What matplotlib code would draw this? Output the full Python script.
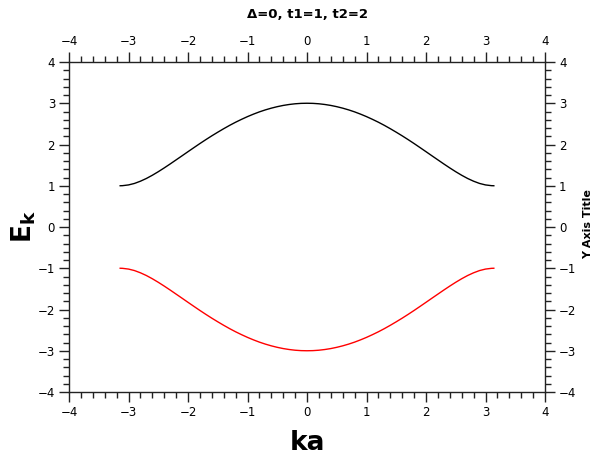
import matplotlib
matplotlib.use("Agg")
import matplotlib.pyplot as plt
from matplotlib.ticker import MultipleLocator

# Data
ka = [-3.14, -3.1, -3.0, -2.9, -2.8, -2.7, -2.6, -2.5, -2.4, -2.3, -2.2, -2.1,
      -2.0, -1.9, -1.8, -1.7, -1.6, -1.5, -1.4, -1.3, -1.2, -1.1, -1.0, -0.9,
      -0.8, -0.7, -0.6, -0.5, -0.4, -0.3, -0.2, -0.1, 0.0, 0.1, 0.2, 0.3, 0.4,
      0.5, 0.6, 0.7, 0.8, 0.9, 1.0, 1.1, 1.2, 1.3, 1.4, 1.5, 1.6, 1.7, 1.8,
      1.9, 2.0, 2.1, 2.2, 2.3, 2.4, 2.5, 2.6, 2.7, 2.8, 2.9, 3.0, 3.1, 3.14]
upper_band = [1.000, 1.002, 1.020, 1.056, 1.110, 1.176, 1.254, 1.340, 1.432,
              1.528, 1.627, 1.726, 1.826, 1.925, 2.023, 2.118, 2.210, 2.298,
              2.383, 2.464, 2.540, 2.610, 2.676, 2.736, 2.791, 2.839, 2.881,
              2.917, 2.947, 2.970, 2.987, 2.997, 3.000, 2.997, 2.987, 2.970,
              2.947, 2.917, 2.881, 2.839, 2.791, 2.736, 2.676, 2.610, 2.540,
              2.464, 2.383, 2.298, 2.210, 2.118, 2.023, 1.925, 1.826, 1.726,
              1.627, 1.528, 1.432, 1.340, 1.254, 1.176, 1.110, 1.056, 1.020,
              1.002, 1.000]
lower_band = [-1.000, -1.002, -1.020, -1.056, -1.110, -1.176, -1.254, -1.340,
              -1.432, -1.528, -1.627, -1.726, -1.826, -1.925, -2.023, -2.118,
              -2.210, -2.298, -2.383, -2.464, -2.540, -2.610, -2.676, -2.736,
              -2.791, -2.839, -2.881, -2.917, -2.947, -2.970, -2.987, -2.997,
              -3.000, -2.997, -2.987, -2.970, -2.947, -2.917, -2.881, -2.839,
              -2.791, -2.736, -2.676, -2.610, -2.540, -2.464, -2.383, -2.298,
              -2.210, -2.118, -2.023, -1.925, -1.826, -1.726, -1.627, -1.528,
              -1.432, -1.340, -1.254, -1.176, -1.110, -1.056, -1.020, -1.002,
              -1.000]
major_ticks = [-4, -3, -2, -1, 0, 1, 2, 3, 4]
title_text = "\u0394=0, t1=1, t2=2"

plt.rcParams['font.family'] = ['DejaVu Sans']

fig = plt.figure(figsize=(5.95, 4.55), dpi=100)
ax = fig.add_axes([69/595, 1-392/455, (545-69)/595, (392-62)/455])

ax.plot(ka, upper_band, color='black', lw=1.0)
ax.plot(ka, lower_band, color='red', lw=1.0)

ax.set_xlim(-4, 4)
ax.set_ylim(-4, 4)
ax.set_xticks(major_ticks)
ax.set_yticks(major_ticks)
ax.set_xticklabels([("\u2212%d" % -t) if t < 0 else str(t) for t in major_ticks])
ax.set_yticklabels([("\u2212%d" % -t) if t < 0 else str(t) for t in major_ticks])
ax.xaxis.set_minor_locator(MultipleLocator(0.2))
ax.yaxis.set_minor_locator(MultipleLocator(0.2))

for sp in ax.spines.values():
    sp.set_linewidth(1.0)
    sp.set_color('#222222')

ax.tick_params(which='both', direction='out', top=True, right=True,
               labeltop=True, labelright=True, labelsize=8.5, color='#222222',
               width=1.0, pad=3)
ax.tick_params(which='major', length=7)
ax.tick_params(which='minor', length=4)

ax.set_xlabel("ka", fontsize=19, fontweight='bold', labelpad=8)
ax.set_ylabel(r"$\mathbf{E_k}$", fontsize=19, labelpad=0)

fig.text(307/595, 1-15/455, title_text, ha='center', va='center',
         fontsize=9.5, fontweight='bold')
fig.text(588/595, 1-224/455, "Y Axis Title", ha='center', va='center',
         rotation=90, fontsize=8, fontweight='bold')

fig.savefig("out.png", dpi=100)
